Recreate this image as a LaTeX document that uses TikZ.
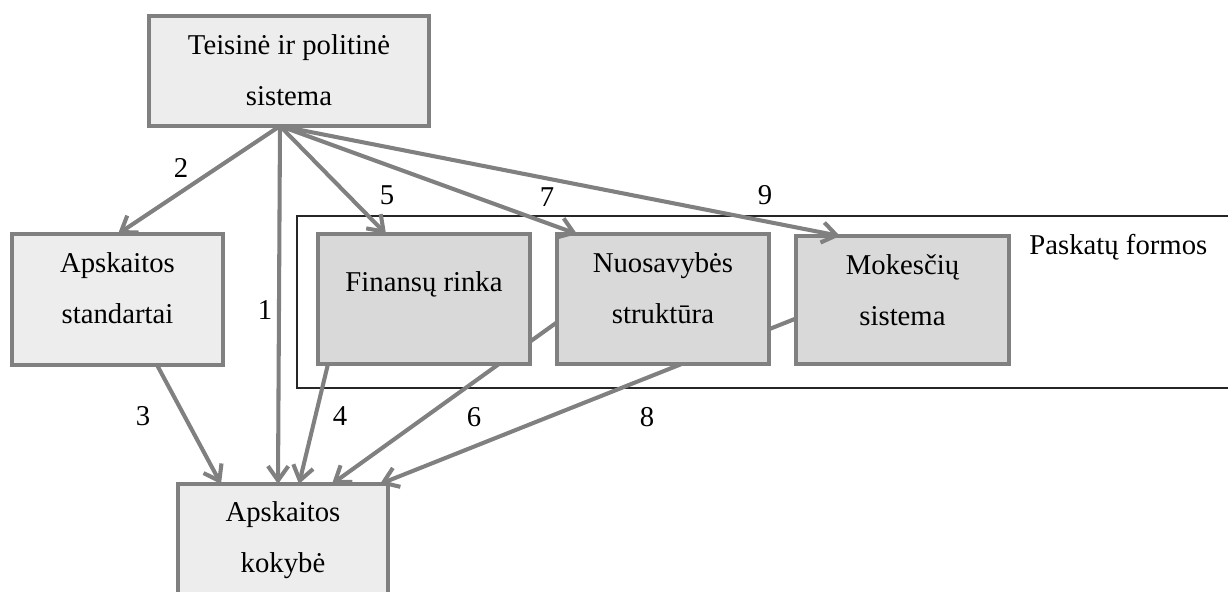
\documentclass[tikz,border=0pt]{standalone}
\usepackage{fontspec}
\setmainfont{Liberation Serif}
\usetikzlibrary{arrows.meta,calc,fit}
\definecolor{bordergray}{RGB}{128,128,128}
\definecolor{lightfill}{RGB}{237,237,237}
\definecolor{darkfill}{RGB}{217,217,217}
\pgfdeclarelayer{background}
\pgfsetlayers{background,main}
\begin{document}
\begin{tikzpicture}[x=0.418pt,y=-0.418pt,
  box/.style={draw=bordergray, line width=1.8pt, inner sep=0pt, outer sep=0pt},
  lightbox/.style={box, fill=lightfill},
  darkbox/.style={box, fill=darkfill},
  txt/.style={align=center, inner sep=0pt, font=\fontsize{12}{21.1}\selectfont},
  num/.style={inner sep=0pt, font=\fontsize{12}{14}\selectfont},
  arr/.style={draw=bordergray, line width=1.7pt, -{Straight Barb[length=6pt,width=8.5pt]}},
  framebox/.style={draw=black!85, line width=0.6pt}
]
\useasboundingbox (0,0) rectangle (1228,592);
\clip (0,0) rectangle (1228,592);

% boxes
\node[lightbox, fit={(149,16) (429,126)}] (top) {};
\node[lightbox, fit={(12,234) (223,365)}] (std) {};
\node[darkbox, fit={(318,234) (530,364)}] (fin) {};
\node[darkbox, fit={(557,234) (769,364)}] (nuos) {};
\node[darkbox, fit={(796,236) (1009,364)}] (mok) {};
\node[lightbox, fit={(178,484) (388,640)}] (kok) {};

% texts
\node[txt] (topT) at ($(top.north)+(0,54)$) {\strut Teisinė ir politinė\\\strut sistema};
\node[txt] (stdT) at ($(std.north)+(0,54)$) {\strut Apskaitos\\\strut standartai};
\node[txt] (finT) at ($(fin.north)+(0,47)$) {\strut Finansų rinka};
\node[txt] (nuosT) at ($(nuos.north)+(0,54)$) {\strut Nuosavybės\\\strut struktūra};
\node[txt] (mokT) at ($(mok.north)+(0,54)$) {\strut Mokesčių\\\strut sistema};
\node[txt] (kokT) at ($(kok.north)+(0,53)$) {\strut Apskaitos\\\strut kokybė};

% frame and lines behind boxes
\coordinate (src) at ($(top.south)+(-9,0)$);
\coordinate (s6) at ($(nuos.north west)+(63,43)$);
\coordinate (s8) at ($(mok.north west)+(54,61)$);
\coordinate (frameTL) at (297,216);
\coordinate (frameBR) at (1260,388);
\begin{pgfonlayer}{background}
  \draw[framebox] (frameTL) rectangle (frameBR);
  \draw[arr] (s6) -- ($(kok.north west)+(154,0)$);
  \draw[arr] (s8) -- ($(kok.north west)+(202,0)$);
\end{pgfonlayer}

\node[anchor=base west, inner sep=0pt, font=\fontsize{12}{14}\selectfont] (pask) at (1029,255) {Paskatų formos};

% arrows
\draw[arr] (src) -- ($(kok.north west)+(100,0)$);
\draw[arr] (src) -- ($(std.north west)+(106,0)$);
\draw[arr] ($(std.south west)+(145,0)$) -- ($(kok.north west)+(43,0)$);
\draw[arr] ($(fin.south west)+(10,0)$) -- ($(kok.north west)+(121,0)$);
\draw[arr] (src) -- ($(fin.north west)+(68,0)$);
\draw[arr] (src) -- ($(nuos.north west)+(20,0)$);
\draw[arr] (src) -- ($(mok.north west)+(44,0)$);

% numbers
\node[num] (n1) at (265,310) {1};
\node[num] (n2) at (181,168) {2};
\node[num] (n3) at (143,416) {3};
\node[num] (n4) at (340,416) {4};
\node[num] (n5) at (387,195) {5};
\node[num] (n6) at (474,417) {6};
\node[num] (n7) at (547,197) {7};
\node[num] (n8) at (647,417) {8};
\node[num] (n9) at (765,195) {9};
\end{tikzpicture}
\end{document}
